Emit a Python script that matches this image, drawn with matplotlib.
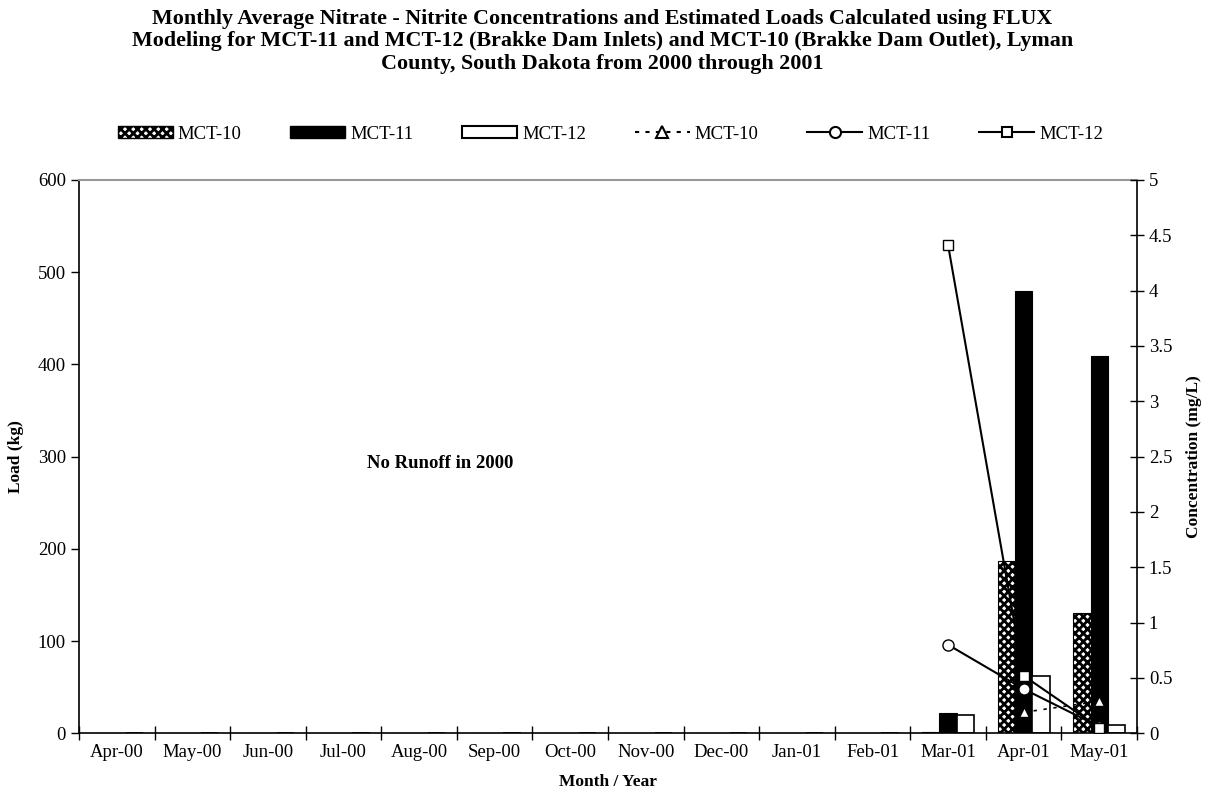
import numpy as np
import matplotlib
matplotlib.use("Agg")
import matplotlib.pyplot as plt
from matplotlib.lines import Line2D
from matplotlib.patches import Patch

plt.rcParams['font.family'] = ['Liberation Serif', 'DejaVu Serif']
plt.rcParams['hatch.linewidth'] = 2.0

months = ["Apr-00", "May-00", "Jun-00", "Jul-00", "Aug-00", "Sep-00", "Oct-00",
          "Nov-00", "Dec-00", "Jan-01", "Feb-01", "Mar-01", "Apr-01", "May-01"]

# loads (kg) - no runoff in 2000
load_mct10 = [0, 0, 0, 0, 0, 0, 0, 0, 0, 0, 0, 1, 187, 130]
load_mct11 = [0, 0, 0, 0, 0, 0, 0, 0, 0, 0, 0, 22, 480, 409]
load_mct12 = [0, 0, 0, 0, 0, 0, 0, 0, 0, 0, 0, 20, 62, 9]

# concentrations (mg/L)
nan = np.nan
conc_mct10 = [nan, nan, nan, nan, nan, nan, nan, nan, nan, nan, nan, nan, 0.19, 0.29]
conc_mct11 = [nan, nan, nan, nan, nan, nan, nan, nan, nan, nan, nan, 0.80, 0.40, 0.06]
conc_mct12 = [nan, nan, nan, nan, nan, nan, nan, nan, nan, nan, nan, 4.41, 0.52, 0.05]

x = np.arange(len(months))
w = 0.23

fig = plt.figure(figsize=(12.05, 8.01), dpi=100)
ax = fig.add_axes([0.0656, 0.0845, 0.878, 0.6908])

ax.bar(x - w, load_mct10, w, color="white", edgecolor="black", hatch="xxxx", linewidth=0.8, zorder=2)
ax.bar(x, load_mct11, w, color="black", edgecolor="black", linewidth=0.8, zorder=2)
ax.bar(x + w, load_mct12, w, color="white", edgecolor="black", linewidth=1.2, zorder=2)

ax.set_xlim(-0.5, len(months) - 0.5)
ax.set_ylim(0, 600)
ax.set_yticks(np.arange(0, 601, 100))
ax.set_xticks(np.arange(-0.5, len(months), 1.0))
ax.set_xticklabels([])
ax.set_xticks(x, minor=True)
ax.set_xticklabels(months, minor=True)
ax.tick_params(axis="x", which="major", direction="inout", length=10, width=1)
ax.tick_params(axis="x", which="minor", length=0, pad=8, labelsize=13.5)
ax.tick_params(axis="y", direction="out", length=6, width=1, labelsize=13.5)
ax.spines["top"].set_color("#999999")
ax.spines["top"].set_linewidth(1.5)
for s in ["left", "bottom", "right"]:
    ax.spines[s].set_linewidth(1.2)
ax.set_ylabel("Load (kg)", fontsize=12.5, fontweight="bold", labelpad=10)
ax.set_xlabel("Month / Year", fontsize=12.5, fontweight="bold", labelpad=9)

ax2 = ax.twinx()
ax2.set_ylim(0, 5)
ax2.set_yticks(np.arange(0, 5.01, 0.5))
ax2.set_yticklabels(["0", "0.5", "1", "1.5", "2", "2.5", "3", "3.5", "4", "4.5", "5"])
ax2.tick_params(axis="y", direction="inout", length=10, width=1, labelsize=13.5)
for s in ax2.spines.values():
    s.set_visible(False)
ax2.set_ylabel("Concentration (mg/L)", fontsize=12.5, fontweight="bold", labelpad=10)

ax2.plot(x, conc_mct10, color="black", linestyle=(0, (2, 4)), linewidth=1.2, marker="^",
         markersize=7, markerfacecolor="white", markeredgecolor="black")
ax2.plot(x, conc_mct11, color="black", linewidth=1.5, marker="o",
         markersize=8, markerfacecolor="white", markeredgecolor="black")
ax2.plot(x, conc_mct12, color="black", linewidth=1.5, marker="s",
         markersize=7, markerfacecolor="white", markeredgecolor="black")

ax.text(4.28, 293, "No Runoff in 2000", fontsize=13.5, fontweight="bold", ha="center", va="center")

handles = [
    Patch(facecolor="white", edgecolor="black", hatch="xxxx"),
    Patch(facecolor="black", edgecolor="black"),
    Patch(facecolor="white", edgecolor="black", linewidth=1.5),
    Line2D([], [], color="black", linestyle=(0, (2, 3)), linewidth=1.5, marker="^", markersize=8,
           markerfacecolor="white", markeredgecolor="black", markeredgewidth=1.5),
    Line2D([], [], color="black", linewidth=1.5, marker="o", markersize=8,
           markerfacecolor="white", markeredgecolor="black", markeredgewidth=1.5),
    Line2D([], [], color="black", linewidth=1.5, marker="s", markersize=7,
           markerfacecolor="white", markeredgecolor="black", markeredgewidth=1.5),
]
labels = ["MCT-10", "MCT-11", "MCT-12", "MCT-10", "MCT-11", "MCT-12"]
fig.legend(handles, labels, loc="center", bbox_to_anchor=(0.5065, 0.8327), ncol=6,
           frameon=False, fontsize=13.5, handlelength=2.93, handleheight=0.6,
           handletextpad=0.27, columnspacing=2.6)

fig.text(0.5, 0.9485, "Monthly Average Nitrate - Nitrite Concentrations and Estimated Loads Calculated using FLUX\n"
         "Modeling for MCT-11 and MCT-12 (Brakke Dam Inlets) and MCT-10 (Brakke Dam Outlet), Lyman\n"
         "County, South Dakota from 2000 through 2001",
         ha="center", va="center", fontsize=15.8, fontweight="bold", linespacing=1.17)

fig.savefig("out.png", dpi=100)
